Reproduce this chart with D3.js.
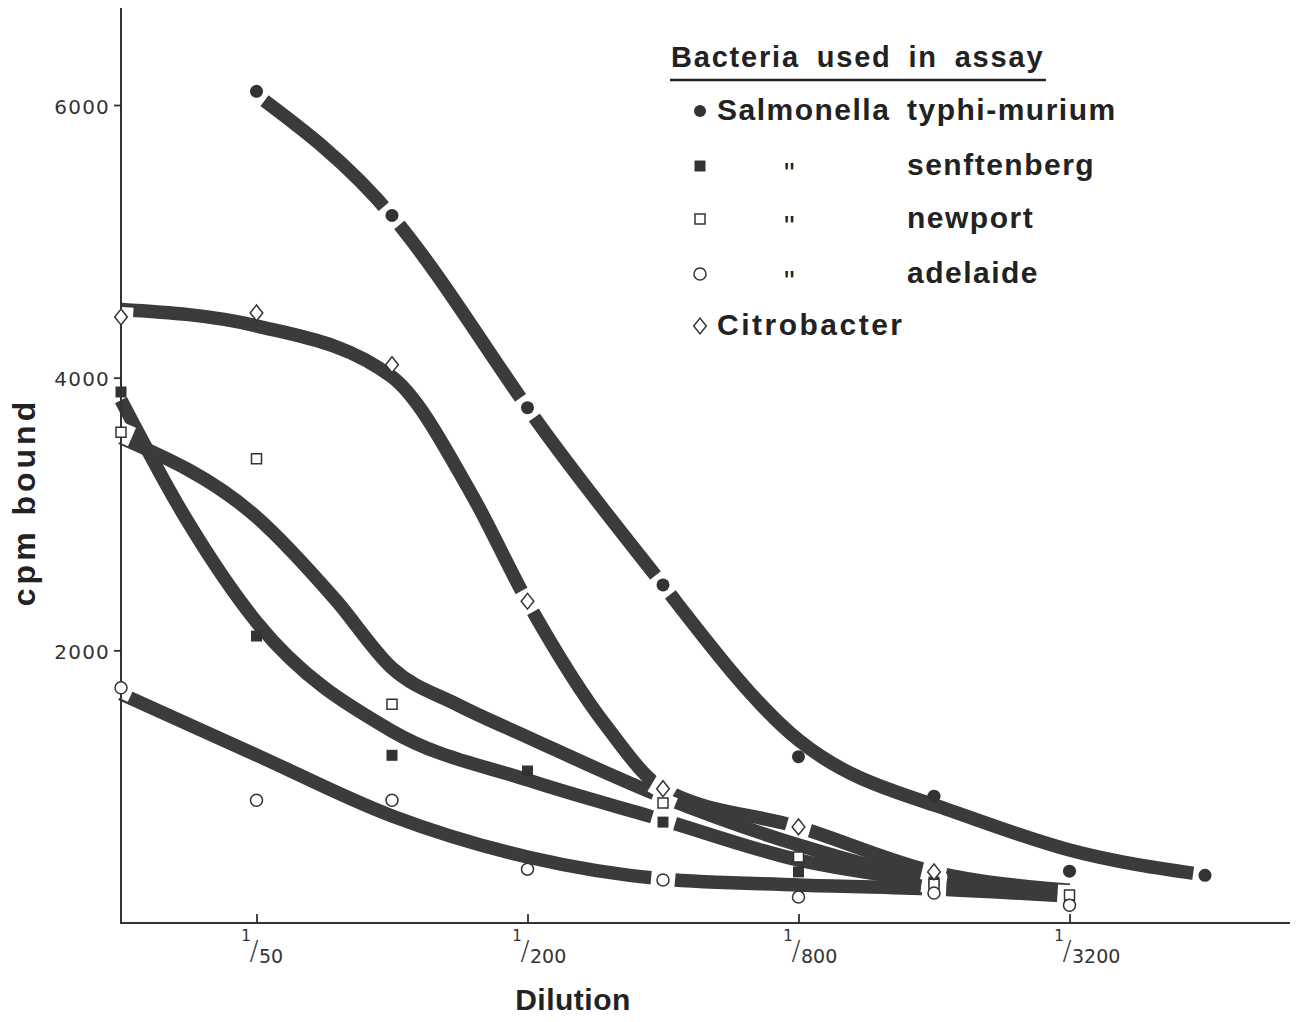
<!DOCTYPE html>
<html>
<head>
<meta charset="utf-8">
<script src="https://cdn.jsdelivr.net/npm/d3@7"></script>
<style>
  body { margin: 0; background: #fff; }
  svg { display: block; }
</style>
</head>
<body>
<svg id="chart" width="1304" height="1022"></svg>
<script>
// Dilution denominators (1/n) and axis ticks
const xDomain = [25, 6400];
const xTicks = [50, 200, 800, 3200];
const yTicks = [2000, 4000, 6000];

// Measured cpm bound per dilution: [denominator, cpm]
const typhimurium = [[50, 6100], [100, 5190], [200, 3780], [400, 2480], [800, 1220], [1600, 930], [3200, 380], [6400, 350]];
const senftenberg = [[25, 3895], [50, 2105], [100, 1230], [200, 1115], [400, 740], [800, 375], [1600, 300], [3200, 170]];
const newport = [[25, 3600], [50, 3405], [100, 1605], [400, 880], [800, 485], [1600, 285], [3200, 205]];
const adelaide = [[25, 1725], [50, 900], [100, 900], [200, 395], [400, 315], [800, 190], [1600, 220], [3200, 130]];
const citrobacter = [[25, 4445], [50, 4475], [100, 4095], [200, 2360], [400, 985], [800, 705], [1600, 375]];

// Hand-drawn trend curves through each series: [denominator, cpm]
const typhimuriumFit = [[50, 6075], [100, 5186], [200, 3778], [400, 2479], [800, 1342], [1600, 866], [3200, 535], [6400, 352]];
const senftenbergFit = [[25, 3836], [35, 2956], [50, 2208], [100, 1408], [200, 1050], [400, 756], [800, 462], [1600, 301], [3200, 198]];
const newportFit = [[25, 3558], [50, 2978], [75, 2369], [100, 1870], [140, 1600], [200, 1364], [400, 924], [800, 572], [1600, 315], [3200, 220]];
const adelaideFit = [[25, 1680], [50, 1232], [100, 785], [200, 484], [400, 323], [800, 279], [1600, 249], [3200, 198]];
const citrobacterFit = [[25, 4500], [50, 4380], [100, 4005], [150, 3150], [200, 2355], [300, 1440], [400, 983], [800, 704], [1600, 374], [3200, 240]];

// Legend wording
const legendTitle = "Bacteria used in assay";
const legendGenus = ["Salmonella", "\"", "\"", "\"", "Citrobacter"];
const legendSpecies = ["typhi-murium", "senftenberg", "newport", "adelaide", ""];

const INK = "#333";
const BAND = "#3b3b3b";

const diamondType = {
  draw(ctx, size) {
    const a = Math.sqrt(size / 1.6);
    ctx.moveTo(0, -a);
    ctx.lineTo(0.8 * a, 0);
    ctx.lineTo(0, a);
    ctx.lineTo(-0.8 * a, 0);
    ctx.closePath();
  }
};

const symbolStyles = {
  dot:        { type: d3.symbolCircle, size: 133, fill: INK, stroke: "none" },
  square:     { type: d3.symbolSquare, size: 121, fill: INK, stroke: "none" },
  openSquare: { type: d3.symbolSquare, size: 100, fill: "#fff", stroke: INK },
  ring:       { type: d3.symbolCircle, size: 113, fill: "#fff", stroke: INK },
  diamond:    { type: diamondType, size: 100, fill: "#fff", stroke: INK }
};

const series = [
  { symbol: "dot", points: typhimurium, fit: typhimuriumFit, curve: d3.curveNatural },
  { symbol: "square", points: senftenberg, fit: senftenbergFit, curve: d3.curveMonotoneX },
  { symbol: "openSquare", points: newport, fit: newportFit, curve: d3.curveMonotoneX },
  { symbol: "ring", points: adelaide, fit: adelaideFit, curve: d3.curveMonotoneX },
  { symbol: "diamond", points: citrobacter, fit: citrobacterFit, curve: d3.curveMonotoneX }
];

const svg = d3.select("#chart");

const x = d3.scaleLog().base(2).domain(xDomain).range([121, 1205]);
const y = d3.scaleLinear().domain([0, 6000]).range([923, 105]);

// trend bands
const curves = svg.append("g");
series.forEach(s => {
  const line = d3.line()
    .x(d => x(d[0]))
    .y(d => y(d[1]))
    .curve(s.curve);
  s.node = curves.append("path")
    .attr("d", line(s.fit))
    .attr("fill", "none")
    .attr("stroke", BAND)
    .attr("stroke-width", 13.5)
    .attr("stroke-linecap", "butt")
    .node();
});

// direction of a band (degrees) near a given point
function bandAngle(node, px, py) {
  const L = node.getTotalLength();
  let best = 0, bd = Infinity;
  for (let l = 0; l <= L; l += 1.5) {
    const p = node.getPointAtLength(l);
    const d = (p.x - px) ** 2 + (p.y - py) ** 2;
    if (d < bd) { bd = d; best = l; }
  }
  const a = node.getPointAtLength(Math.max(0, best - 5));
  const b = node.getPointAtLength(Math.min(L, best + 5));
  return Math.atan2(b.y - a.y, b.x - a.x) * 180 / Math.PI;
}

// white breaks in a band wherever a point sits on its own curve
const cuts = svg.append("g");
series.forEach(s => {
  s.points.forEach(p => {
    const f = s.fit.find(q => q[0] === p[0]);
    if (f && Math.abs(y(f[1]) - y(p[1])) < 7.5) {
      const px = x(p[0]), py = y(p[1]);
      const ang = bandAngle(s.node, px, py);
      cuts.append("rect")
        .attr("x", -12).attr("y", -10)
        .attr("width", 24).attr("height", 20)
        .attr("fill", "#fff")
        .attr("transform", `translate(${px},${py}) rotate(${ang})`);
    }
  });
});

// axes
const axes = svg.append("g");
axes.append("line")
  .attr("x1", x(xDomain[0])).attr("x2", x(xDomain[0]))
  .attr("y1", y(0)).attr("y2", 8)
  .attr("stroke", INK).attr("stroke-width", 2);
axes.append("line")
  .attr("x1", x(xDomain[0]) - 1).attr("x2", 1290)
  .attr("y1", y(0)).attr("y2", y(0))
  .attr("stroke", INK).attr("stroke-width", 2.2);

const yAxis = axes.append("g")
  .attr("transform", `translate(${x(xDomain[0])},0)`)
  .call(d3.axisLeft(y).tickValues(yTicks).tickSize(7).tickPadding(4).tickFormat(d3.format("d")));
yAxis.select(".domain").remove();
yAxis.selectAll(".tick line").attr("stroke", INK).attr("stroke-width", 1.8);
yAxis.selectAll(".tick text")
  .attr("fill", INK)
  .attr("dy", "0.4em")
  .style("font-family", "'DejaVu Sans', sans-serif")
  .style("font-size", "20px")
  .style("letter-spacing", "1.2px");

const xAxis = axes.append("g")
  .attr("transform", `translate(0,${y(0)})`)
  .call(d3.axisBottom(x).tickValues(xTicks).tickSize(-9).tickFormat(""));
xAxis.select(".domain").remove();
xAxis.selectAll(".tick line").attr("stroke", INK).attr("stroke-width", 1.8);
xAxis.selectAll(".tick text").remove();
// fraction labels: small raised numerator, slash, denominator
xAxis.selectAll(".tick").each(function (d) {
  const t = d3.select(this).append("text")
    .attr("fill", INK)
    .style("font-family", "'DejaVu Sans', sans-serif");
  t.append("tspan").attr("x", -11).attr("y", 18).attr("text-anchor", "middle")
    .style("font-size", "15px").text("1");
  t.append("tspan").attr("x", -3).attr("y", 37).attr("text-anchor", "middle")
    .style("font-size", "27px").style("font-weight", "300").text("/");
  t.append("tspan").attr("x", 2).attr("y", 40).attr("text-anchor", "start")
    .style("font-size", "19px").text(String(d));
});

// axis titles
svg.append("text")
  .attr("x", 573).attr("y", 1010)
  .attr("text-anchor", "middle")
  .attr("fill", "#222")
  .style("font-family", "'Liberation Sans', Arial, sans-serif")
  .style("font-weight", "bold")
  .style("font-size", "30px")
  .style("letter-spacing", "0.5px")
  .text("Dilution");

svg.append("text")
  .attr("transform", "translate(35,502) rotate(-90)")
  .attr("text-anchor", "middle")
  .attr("fill", "#222")
  .style("font-family", "'Liberation Sans', Arial, sans-serif")
  .style("font-weight", "bold")
  .style("font-size", "32px")
  .style("letter-spacing", "4px")
  .text("cpm bound");

// data points
const marks = svg.append("g");
series.forEach(s => {
  const st = symbolStyles[s.symbol];
  const gen = d3.symbol().type(st.type).size(st.size);
  marks.selectAll(null)
    .data(s.points)
    .join("path")
    .attr("transform", d => `translate(${x(d[0])},${y(d[1])})`)
    .attr("d", gen())
    .attr("fill", st.fill)
    .attr("stroke", st.stroke)
    .attr("stroke-width", 1.5);
});

// legend
const legend = svg.append("g");
legend.append("text")
  .attr("x", 671).attr("y", 67)
  .attr("fill", "#222")
  .style("font-family", "'Liberation Sans', Arial, sans-serif")
  .style("font-weight", "bold")
  .style("font-size", "29px")
  .style("letter-spacing", "1.8px")
  .style("word-spacing", "7px")
  .text(legendTitle);
legend.append("line")
  .attr("x1", 670).attr("x2", 1046)
  .attr("y1", 80).attr("y2", 80)
  .attr("stroke", "#222").attr("stroke-width", 2.6);

const rowY = [120, 175, 228, 283, 335];
series.forEach((s, i) => {
  const st = symbolStyles[s.symbol];
  const scaleDown = s.symbol === "dot" ? 0.85 : 1;
  legend.append("path")
    .attr("transform", `translate(700,${rowY[i] - 9})`)
    .attr("d", d3.symbol().type(st.type).size(st.size * scaleDown)())
    .attr("fill", st.fill)
    .attr("stroke", st.stroke)
    .attr("stroke-width", 1.5);
  const isDitto = legendGenus[i] === "\"";
  legend.append("text")
    .attr("x", isDitto ? 784 : 717)
    .attr("y", rowY[i] + (isDitto ? 8 : 0))
    .attr("fill", "#222")
    .style("font-family", "'Liberation Sans', Arial, sans-serif")
    .style("font-weight", isDitto ? "normal" : "bold")
    .style("font-size", "30px")
    .style("letter-spacing", i === 4 ? "2.5px" : "1.5px")
    .text(legendGenus[i]);
  if (legendSpecies[i]) {
    legend.append("text")
      .attr("x", 907).attr("y", rowY[i])
      .attr("fill", "#222")
      .style("font-family", "'Liberation Sans', Arial, sans-serif")
      .style("font-weight", "bold")
      .style("font-size", "30px")
      .style("letter-spacing", "1.5px")
      .text(legendSpecies[i]);
  }
});
</script>
</body>
</html>
